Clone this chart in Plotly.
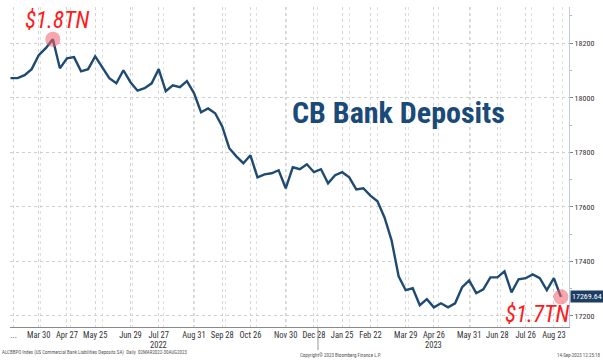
import pandas as pd
import plotly.graph_objects as go

# Weekly commercial bank deposits (USD bn), Wednesdays from 2 Mar 2022
start_date = "2022-03-02"
deposits = [
    18072, 18072, 18083, 18105, 18156, 18182, 18215, 18108, 18145, 18149,
    18097, 18105, 18152, 18112, 18072, 18053, 18101, 18057, 18026, 18035,
    18053, 18105, 18024, 18046, 18039, 18061, 18017, 17947, 17961, 17943,
    17895, 17815, 17785, 17760, 17789, 17708, 17719, 17723, 17734, 17668,
    17745, 17738, 17756, 17727, 17738, 17686, 17716, 17727, 17708, 17664,
    17668, 17641, 17620, 17561, 17477, 17345, 17294, 17301, 17239, 17261,
    17231, 17246, 17231, 17246, 17305, 17330, 17283, 17297, 17341, 17341,
    17363, 17286, 17334, 17338, 17352, 17338, 17294, 17338, 17269.64,
]
dates = pd.date_range(start_date, periods=len(deposits), freq="7D")

# Date axis labels
tick_dates = [
    "2022-03-05", "2022-03-30", "2022-04-27", "2022-05-25", "2022-06-29",
    "2022-07-27", "2022-08-31", "2022-09-28", "2022-10-26", "2022-11-30",
    "2022-12-28", "2023-01-25", "2023-02-22", "2023-03-29", "2023-04-26",
    "2023-05-31", "2023-06-28", "2023-07-26", "2023-08-23",
]
tick_text = [
    "...", "Mar 30", "Apr 27", "May 25", "Jun 29", "Jul 27", "Aug 31",
    "Sep 28", "Oct 26", "Nov 30", "Dec 28", "Jan 25", "Feb 22", "Mar 29",
    "Apr 26", "May 31", "Jun 28", "Jul 26", "Aug 23",
]
year_labels = ["2022", "2023"]
year_label_dates = ["2022-07-27", "2023-04-26"]
month_starts = pd.date_range("2022-04-01", "2023-09-01", freq="MS")

y_ticks = [17200, 17400, 17600, 17800, 18000, 18200]
y_tick_text = ["17200", "17400", "17600", "17800", "18000", "18200"]

peak_label = "$1.8TN"
last_label = "$1.7TN"
title_text = "CB Bank Deposits"
source_text = "ALCBBPO Index (US Commercial Bank Liabilities Deposits SA)  Daily  02MAR2022-30AUG2023"
copyright_text = "Copyright© 2023 Bloomberg Finance L.P."
stamp_text = "14-Sep-2023 12:25:18"

LINE = "#1f4a72"
COND = "Roboto Condensed, Roboto, sans-serif"

# Figure geometry (px)
W, H = 603, 360
ML, MR, MT, MB = 10, 34, 7, 33
plot_w, plot_h = W - ML - MR, H - MT - MB


def px_to_paper(x, y):
    return (x - ML) / plot_w, (H - MB - y) / plot_h


peak_idx = max(range(len(deposits)), key=lambda i: deposits[i])
last_idx = len(deposits) - 1

fig = go.Figure()
fig.add_trace(go.Scatter(
    x=dates, y=deposits, mode="lines",
    line=dict(color=LINE, width=2.4),
    hoverinfo="skip", showlegend=False,
))
fig.add_trace(go.Scatter(
    x=[dates[peak_idx], dates[last_idx]],
    y=[deposits[peak_idx], deposits[last_idx]],
    mode="markers",
    marker=dict(size=15, color="rgba(240,95,105,0.55)", line=dict(width=0)),
    hoverinfo="skip", showlegend=False,
))

fig.update_layout(
    width=W, height=H,
    margin=dict(l=ML, r=MR, t=MT, b=MB),
    paper_bgcolor="white", plot_bgcolor="white",
    showlegend=False,
    xaxis=dict(
        type="date",
        range=["2022-03-01 12:00", "2023-09-07"],
        tickmode="array", tickvals=tick_dates, ticktext=tick_text,
        tickfont=dict(family=COND, size=8.5, color="#333333"),
        showgrid=True, gridcolor="#d4d4d4", griddash="dot", gridwidth=1,
        minor=dict(tickmode="array", tickvals=list(month_starts),
                   showgrid=True, gridcolor="#e0e0e0", griddash="dot",
                   gridwidth=1),
        showline=True, linecolor="#8a8a8a", linewidth=1,
        ticks="", zeroline=False,
    ),
    yaxis=dict(
        side="right",
        range=[17159, 18333],
        tickmode="array", tickvals=y_ticks, ticktext=y_tick_text,
        tickfont=dict(family=COND, size=8, color="#333333"),
        ticks="outside", ticklen=3, tickcolor="#6f86a6",
        showgrid=True, gridcolor="#cfcfcf", griddash="dot", gridwidth=1,
        minor=dict(dtick=100, ticks="outside", ticklen=2,
                   tickcolor="#aab6c8", showgrid=False),
        showline=True, linecolor="#c3ccd9", linewidth=1,
        zeroline=False,
    ),
)

tx, ty = px_to_paper(398, 112)
_, foot_y1 = px_to_paper(0, 352)
_, foot_y2 = px_to_paper(0, 355)
cx, _ = px_to_paper(340, 0)
rx, _ = px_to_paper(603, 0)
lx, _ = px_to_paper(0, 0)
_, year_y = px_to_paper(0, 345)

annotations = [
    dict(x=dates[peak_idx], y=deposits[peak_idx], xref="x", yref="y",
         text=f"<i>{peak_label}</i>", showarrow=False,
         xanchor="center", yanchor="bottom", xshift=5, yshift=3,
         font=dict(family=COND, size=23, color="#ff1a1a")),
    dict(x=dates[last_idx], y=deposits[last_idx], xref="x", yref="y",
         text=f"<i>{last_label}</i>", showarrow=False,
         xanchor="center", yanchor="top", xshift=-23, yshift=-3,
         borderpad=0,
         font=dict(family=COND, size=23, color="#ff1a1a")),
    dict(x=tx, y=ty, xref="paper", yref="paper", text=f"<b>{title_text}</b>",
         xanchor="center", yanchor="middle", showarrow=False,
         font=dict(family=COND, size=30, color="#1a4a78")),
    dict(x=1.0, y=deposits[last_idx], xref="paper", yref="y",
         text=f"{deposits[last_idx]:.2f}", showarrow=False,
         xanchor="left", yanchor="middle", xshift=1,
         bgcolor="#1d3d63", borderpad=1,
         font=dict(family=COND, size=8, color="white")),
    dict(x=lx, y=foot_y1, xref="paper", yref="paper", xanchor="left",
         yanchor="middle", showarrow=False, text=source_text,
         font=dict(family=COND, size=5, color="#555555")),
    dict(x=cx, y=foot_y2, xref="paper", yref="paper", xanchor="center",
         yanchor="middle", showarrow=False, text=copyright_text,
         font=dict(family=COND, size=5, color="#555555")),
    dict(x=rx, y=foot_y2, xref="paper", yref="paper", xanchor="right",
         yanchor="middle", showarrow=False, text=stamp_text,
         font=dict(family=COND, size=5, color="#555555")),
]
for lbl, d in zip(year_labels, year_label_dates):
    annotations.append(dict(x=d, y=year_y, xref="x", yref="paper",
                            xanchor="center", yanchor="middle",
                            showarrow=False, text=lbl,
                            font=dict(family=COND, size=8.5, color="#333333")))
fig.update_layout(annotations=annotations)

# Year boundary marker below the date axis
fig.add_shape(type="line", xref="x", yref="paper",
              x0="2023-01-01", x1="2023-01-01", y0=0, y1=-0.072,
              line=dict(color="#9a9a9a", width=1))

fig.write_html("out.html")
